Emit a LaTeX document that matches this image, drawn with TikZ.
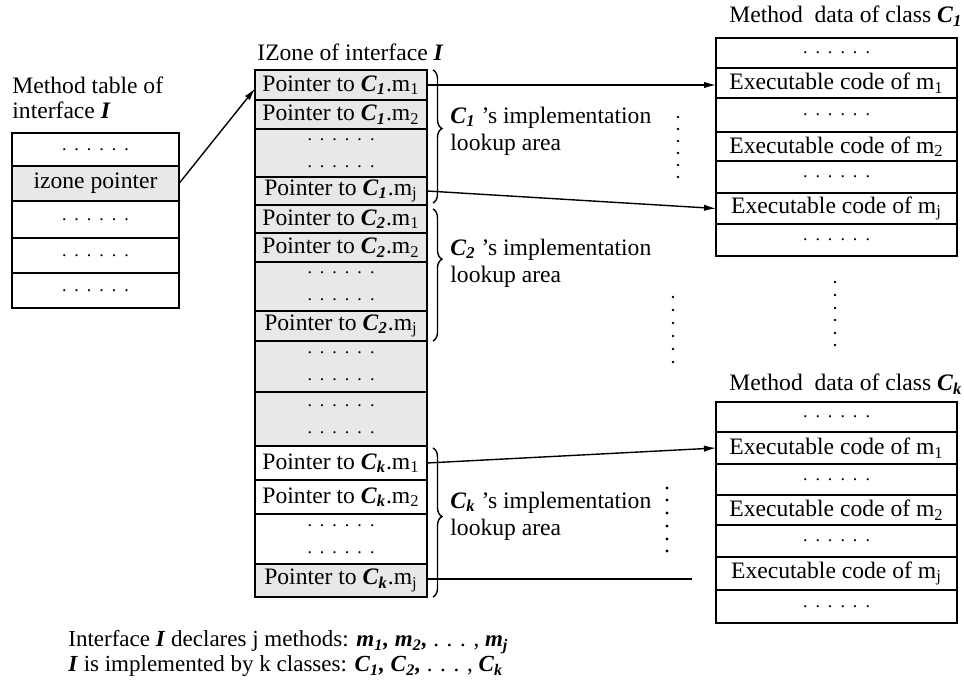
\documentclass[tikz,border=0pt]{standalone}
\usepackage{fontspec}
\setmainfont{Liberation Serif}
\usetikzlibrary{calc,arrows.meta,decorations.pathreplacing}
% class name C_i and method names m_i
\newcommand\cls[1]{\textbf{\textit{C}}\textsubscript{\textbf{\textit{#1}}}}
\newcommand\mth[1]{m\textsubscript{#1}}
\newcommand\bmth[1]{\textbf{\textit{m}}\textsubscript{\textbf{\textit{#1}}}}
\newcommand\ifc{\textbf{\textit{I}}}
% a row of six dots, set small so the line stays low
\newcommand\dgap{\hspace{4pt}}
\newcommand\drow{{\fontsize{9}{13.6}\selectfont .\dgap.\dgap.\dgap.\dgap.\dgap.}}
\begin{document}
\begin{tikzpicture}[x=0.5pt,y=-0.5pt,
  every node/.style={font=\fontsize{11.8}{13.6}\selectfont},
  cell/.style={draw,line width=0.7pt,inner sep=0pt,outer sep=0pt,align=center},
  greycell/.style={cell,fill=black!9},
  heavycell/.style={cell,line width=1.2pt},
  sz/.style 2 args={minimum width=#1*0.5pt,minimum height=#2*0.5pt},
  title/.style={anchor=west,inner sep=0pt},
  ptr/.style={line width=0.7pt,-{Latex[length=6pt,width=3.2pt]}},
  lookup/.style={line width=0.7pt,decorate,decoration={brace,amplitude=4.5pt,aspect=#1}},
  arealabel/.style={anchor=west,align=left,inner sep=0pt}]
\useasboundingbox (0,0) rectangle (964,683);

% ---- method table of interface I
\node[title] (mt1) at (12,85) {Method table of};
\node[title] (mt2) at (12,110) {interface \ifc};
\node[cell,     sz={167}{33}] (t1) at (95.5,149.5) {\drow};
\node[greycell, sz={167}{35}] (t2) at (95.5,183.5) {izone pointer};
\node[cell,     sz={167}{37}] (t3) at (95.5,219.5) {\drow};
\node[cell,     sz={167}{35}] (t4) at (95.5,255.5) {\drow};
\node[cell,     sz={167}{35}] (t5) at (95.5,290.5) {\drow};

% ---- IZone of interface I
\node[title] (zt) at (257,52) {IZone of interface \ifc};
\node[greycell, sz={172}{30}] (z1)  at (341,85)    {Pointer to \cls{1}.\mth{1}};
\node[greycell, sz={172}{29}] (z2)  at (341,114.5) {Pointer to \cls{1}.\mth{2}};
\node[greycell, sz={172}{48}] (z3)  at (341,153)   {\drow\\\drow};
\node[greycell, sz={172}{28}] (z4)  at (341,191)   {Pointer to \cls{1}.\mth{j}};
\node[greycell, sz={172}{28}] (z5)  at (341,219)   {Pointer to \cls{2}.\mth{1}};
\node[greycell, sz={172}{29}] (z6)  at (341,247.5) {Pointer to \cls{2}.\mth{2}};
\node[greycell, sz={172}{49}] (z7)  at (341,286.5) {\drow\\\drow};
\node[greycell, sz={172}{30}] (z8)  at (341,326)   {Pointer to \cls{2}.\mth{j}};
\node[greycell, sz={172}{51}] (z9)  at (341,366.5) {\drow\\\drow};
\node[greycell, sz={172}{54}] (z10) at (341,419)   {\drow\\\drow};
\node[cell,     sz={172}{34}] (z11) at (341,463)   {Pointer to \cls{k}.\mth{1}};
\node[heavycell,sz={172}{34}] (z12) at (341,497)   {Pointer to \cls{k}.\mth{2}};
\node[cell,     sz={172}{50}] (z13) at (341,539)   {\drow\\\drow};
\node[greycell, sz={172}{33}] (z14) at (341,580.5) {Pointer to \cls{k}.\mth{j}};

% ---- lookup areas
\draw[lookup=0.44] ([xshift=3pt]z1.north east) -- ([xshift=3pt,yshift=1pt]z4.south east);
\draw[lookup=0.38] ([xshift=3pt,yshift=-2pt]z5.north east) -- ([xshift=3pt]z8.south east);
\draw[lookup=0.46] ([xshift=3pt,yshift=-1pt]z11.north east) -- ([xshift=3pt]z14.south east);
\node[arealabel] (l1) at (450,131) {\cls{1} 's implementation\\lookup area};
\node[arealabel] (l2) at (450,263) {\cls{2} 's implementation\\lookup area};
\node[arealabel] (l3) at (450,516) {\cls{k} 's implementation\\lookup area};

% ---- vertical ellipses
\foreach \y in {117,129,141,153,165,177} \fill (678,\y) circle (0.65pt);
\foreach \y in {297,310,323,336,349,362} \fill (673,\y) circle (0.65pt);
\foreach \y in {488,500,513,526,539,551} \fill (667,\y) circle (0.8pt);
\foreach \y in {282,295,308,320,333,345} \fill (835,\y) circle (0.65pt);

% ---- method data of class C1
\node[title] (d1t) at (729,16) {Method\ \ data of class \cls{1}};
\node[cell, sz={241}{30}] (a1) at (836.5,53)    {\drow};
\node[cell, sz={241}{30}] (a2) at (836.5,83)    {Executable code of \mth{1}};
\node[cell, sz={241}{34}] (a3) at (836.5,115)   {\drow};
\node[cell, sz={241}{29}] (a4) at (836.5,146.5) {Executable code of \mth{2}};
\node[cell, sz={241}{32}] (a5) at (836.5,177)   {\drow};
\node[cell, sz={241}{31}] (a6) at (836.5,208.5) {Executable code of \mth{j}};
\node[cell, sz={241}{32}] (a7) at (836.5,240)   {\drow};

% ---- method data of class Ck
\node[title] (dkt) at (729,384) {Method\ \ data of class \cls{k}};
\node[cell,      sz={241}{30}] (b1) at (836.5,417)   {\drow};
\node[cell,      sz={241}{32}] (b2) at (836.5,448)   {Executable code of \mth{1}};
\node[cell,      sz={241}{31}] (b3) at (836.5,479.5) {\drow};
\node[heavycell, sz={241}{30}] (b4) at (836.5,510)   {Executable code of \mth{2}};
\node[cell,      sz={241}{32}] (b5) at (836.5,541)   {\drow};
\node[cell,      sz={241}{33}] (b6) at (836.5,573.5) {Executable code of \mth{j}};
\node[cell,      sz={241}{33}] (b7) at (836.5,606.5) {\drow};

% ---- pointers
\draw[ptr] (t2.east) -- ($(z1.north west)!0.62!(z1.south west)$);
\draw[ptr] (z1.east) -- (z1.east -| a2.west);
\draw[ptr] (z4.east) -- (a6.west);
\draw[ptr] (z11.east) -- (b2.west);
\coordinate (bend) at (692,579);
\draw[line width=0.7pt] (z14.east |- bend) -- (bend);

% ---- notes
\node[anchor=north west,align=left,inner sep=0pt,font=\fontsize{11.5}{10.6}\selectfont] (notes) at (68,630)
  {Interface \ifc{} declares j methods: \bmth{1}\textbf{\textit{,}} \bmth{2}\textbf{\textit{,}} . . . , \bmth{j}\\
   \ifc{} is implemented by k classes: \cls{1}\textbf{\textit{,}} \cls{2}\textbf{\textit{,}} . . . , \cls{k}};
\end{tikzpicture}
\end{document}
